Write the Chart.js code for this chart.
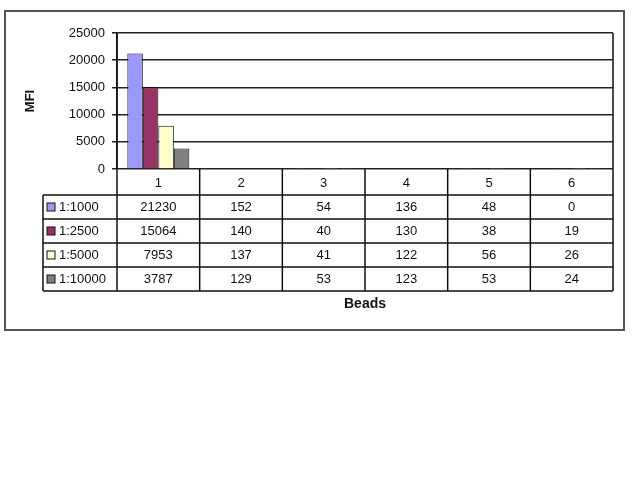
<!DOCTYPE html>
<html>
<head>
<meta charset="utf-8">
<script src="https://cdn.jsdelivr.net/npm/chart.js@4"></script>
<style>
  html, body { margin: 0; padding: 0; background: #fff; }
  #wrap { width: 640px; height: 480px; }
</style>
</head>
<body>
<div id="wrap"><canvas id="chart" width="640" height="480"></canvas></div>
<script>
// data
const beads = ['1', '2', '3', '4', '5', '6'];
const dilutions = ['1:1000', '1:2500', '1:5000', '1:10000'];
const mfi1000 = [21230, 152, 54, 136, 48, 0];
const mfi2500 = [15064, 140, 40, 130, 38, 19];
const mfi5000 = [7953, 137, 41, 122, 56, 26];
const mfi10000 = [3787, 129, 53, 123, 53, 24];
const yMax = 25000;
const yStep = 5000;

const seriesColors = ['#9999ff', '#993366', '#ffffcc', '#808080'];
const series = [mfi1000, mfi2500, mfi5000, mfi10000];

const FONT = '"Liberation Sans", Arial, sans-serif';

// draws the frame, data table, and axis titles around the plot
const tablePlugin = {
  id: 'dataTable',
  afterDraw(chart) {
    const ctx = chart.ctx;
    const x = chart.scales.x;
    const a = chart.chartArea;
    const colW = (x.right - x.left) / beads.length;
    const catBottom = a.bottom + 26;
    const rowH = 24;
    const tableBottom = catBottom + rowH * dilutions.length;
    const legendLeft = 43;

    ctx.save();
    ctx.strokeStyle = '#111';
    ctx.lineWidth = 1.5;

    // vertical lines
    ctx.beginPath();
    ctx.moveTo(a.left, a.top); ctx.lineTo(a.left, tableBottom);
    ctx.moveTo(a.right, a.top); ctx.lineTo(a.right, tableBottom);
    for (let i = 1; i < beads.length; i++) {
      const xx = x.left + i * colW;
      ctx.moveTo(xx, a.bottom); ctx.lineTo(xx, tableBottom);
    }
    ctx.moveTo(legendLeft, catBottom); ctx.lineTo(legendLeft, tableBottom);
    // horizontal lines
    for (let r = 0; r <= dilutions.length; r++) {
      const yy = catBottom + r * rowH;
      ctx.moveTo(legendLeft, yy); ctx.lineTo(a.right, yy);
    }
    ctx.stroke();

    ctx.fillStyle = '#111';
    ctx.font = '13px ' + FONT;
    ctx.textAlign = 'center';
    ctx.textBaseline = 'middle';
    beads.forEach((b, i) => {
      ctx.fillText(b, x.getPixelForValue(i), (a.bottom + catBottom) / 2 + 1);
    });

    dilutions.forEach((d, r) => {
      const cy = catBottom + r * rowH + rowH / 2;
      // legend key
      ctx.fillStyle = seriesColors[r];
      ctx.fillRect(47, cy - 4, 8, 8);
      ctx.lineWidth = 1;
      ctx.strokeStyle = '#111';
      ctx.strokeRect(47, cy - 4, 8, 8);
      ctx.fillStyle = '#111';
      ctx.textAlign = 'left';
      ctx.fillText(d, 59, cy);
      ctx.textAlign = 'center';
      series[r].forEach((v, i) => {
        ctx.fillText(String(v), x.getPixelForValue(i), cy);
      });
    });

    // axis titles
    ctx.font = 'bold 14px ' + FONT;
    ctx.fillText('Beads', (a.left + a.right) / 2, tableBottom + 13);
    ctx.save();
    ctx.translate(30, (a.top + a.bottom) / 2);
    ctx.rotate(-Math.PI / 2);
    ctx.font = 'bold 13px ' + FONT;
    ctx.fillText('MFI', 0, 0);
    ctx.restore();

    // outer frame
    ctx.strokeStyle = '#555';
    ctx.lineWidth = 2;
    ctx.strokeRect(5, 11, 619, 319);
    ctx.restore();
  }
};

new Chart(document.getElementById('chart'), {
  type: 'bar',
  data: {
    labels: beads,
    datasets: dilutions.map((d, i) => ({
      label: d,
      data: series[i],
      backgroundColor: seriesColors[i],
      borderColor: '#111',
      borderWidth: 1,
      categoryPercentage: 0.75,
      barPercentage: 1.0
    }))
  },
  options: {
    responsive: false,
    animation: false,
    layout: { padding: { left: 0, top: 33, right: 27, bottom: 311 } },
    plugins: { legend: { display: false }, tooltip: { enabled: false } },
    scales: {
      x: { display: false },
      y: {
        min: 0,
        max: yMax,
        afterFit(scale) { scale.width = 117; },
        ticks: {
          stepSize: yStep,
          color: '#111',
          padding: 7,
          font: { family: FONT, size: 13 },
          callback: (v) => String(v)
        },
        grid: { color: '#222', lineWidth: 1.5, tickLength: 5 },
        border: { color: '#111', width: 1.5 }
      }
    }
  },
  plugins: [tablePlugin]
});
</script>
</body>
</html>
